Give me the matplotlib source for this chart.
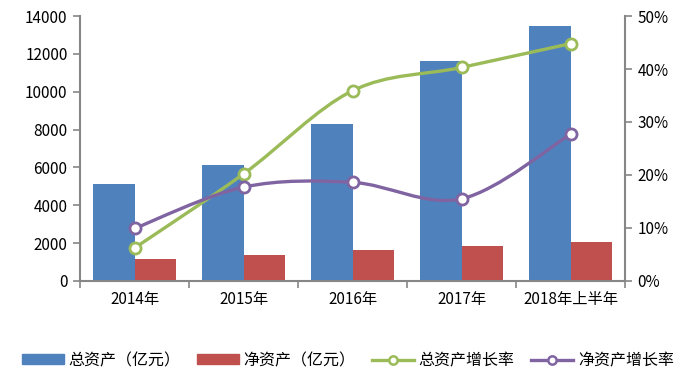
import numpy as np
import matplotlib
matplotlib.use("Agg")
import matplotlib.pyplot as plt
from matplotlib.path import Path
from matplotlib.patches import PathPatch
from matplotlib.lines import Line2D
from matplotlib.patches import Patch

plt.rcParams['font.family'] = ['Noto Sans CJK SC', 'DejaVu Sans']

categories = ["2014年", "2015年", "2016年", "2017年", "2018年上半年"]
total_assets = [5100, 6110, 8310, 11650, 13450]
net_assets = [1175, 1375, 1625, 1860, 2070]
total_growth = [6.2, 20.2, 35.9, 40.3, 44.8]
net_growth = [9.9, 17.7, 18.6, 15.5, 27.7]

BLUE = "#4F81BD"
RED = "#C0504D"
GREEN = "#9BBB59"
PURPLE = "#8064A2"
GRAY = "#868686"


def smooth_path(xs, ys):
    # Bezier path through the points, like Excel's smoothed line
    pts = np.column_stack([xs, ys]).astype(float)
    verts = [pts[0]]
    codes = [Path.MOVETO]
    n = len(pts)
    for i in range(n - 1):
        p0 = pts[i - 1] if i > 0 else pts[i]
        p1, p2 = pts[i], pts[i + 1]
        p3 = pts[i + 2] if i + 2 < n else pts[i + 1]
        c1 = p1 + (p2 - p0) / 6.0
        c2 = p2 - (p3 - p1) / 6.0
        verts += [c1, c2, p2]
        codes += [Path.CURVE4] * 3
    return Path(verts, codes)


fig = plt.figure(figsize=(6.96, 3.74), dpi=100)
ax = fig.add_axes([0.115, 0.249, 0.783, 0.708])
ax2 = ax.twinx()

x = np.arange(len(categories))
w = 0.385
ax.bar(x - w / 2, total_assets, w, color=BLUE, zorder=2)
ax.bar(x + w / 2, net_assets, w, color=RED, zorder=2)

ax.set_xlim(-0.5, len(categories) - 0.5)
ax.set_ylim(0, 14000)
ax.set_yticks(range(0, 14001, 2000))
ax.set_xticks(np.arange(-0.5, len(categories), 1.0))
ax.set_xticklabels([])
ax.set_xticks(x, minor=True)
ax.set_xticklabels(categories, minor=True)
ax.tick_params(axis="x", which="major", length=5, width=1.2, color=GRAY,
               direction="out")
ax.tick_params(axis="x", which="minor", length=0, pad=7, labelsize=11)
ax.tick_params(axis="y", length=5, width=1.2, color=GRAY, labelsize=11,
               pad=4)

ax2.set_ylim(0, 50)
ax2.set_yticks(range(0, 51, 10))
ax2.set_yticklabels([f"{v}%" for v in range(0, 51, 10)])
ax2.tick_params(axis="y", length=5, width=1.2, color=GRAY, labelsize=11,
                pad=4)

for a in (ax, ax2):
    a.spines["top"].set_visible(False)
    for s in ("left", "right", "bottom"):
        a.spines[s].set_color(GRAY)
        a.spines[s].set_linewidth(1.5)
ax.spines["right"].set_visible(False)
ax2.spines["left"].set_visible(False)
ax2.spines["bottom"].set_visible(False)

for ys, col in ((total_growth, GREEN), (net_growth, PURPLE)):
    ax2.add_patch(PathPatch(smooth_path(x, ys), facecolor="none",
                            edgecolor=col, lw=2.4, zorder=3))
    ax2.plot(x, ys, linestyle="none", marker="o", markersize=8,
             markerfacecolor="white", markeredgecolor=col,
             markeredgewidth=2, zorder=4)

handles = [
    Patch(color=BLUE, label="总资产（亿元）"),
    Patch(color=RED, label="净资产（亿元）"),
    Line2D([], [], color=GREEN, lw=2.4, marker="o", markersize=6,
           markerfacecolor="white", markeredgewidth=1.8, label="总资产增长率"),
    Line2D([], [], color=PURPLE, lw=2.4, marker="o", markersize=6,
           markerfacecolor="white", markeredgewidth=1.8, label="净资产增长率"),
]
fig.legend(handles=handles, loc="center", bbox_to_anchor=(0.5, 0.036),
           ncol=4, frameon=False, fontsize=11.5, handlelength=2.6,
           handleheight=0.6, columnspacing=1.05, handletextpad=0.3)

fig.savefig("out.png", dpi=100)
